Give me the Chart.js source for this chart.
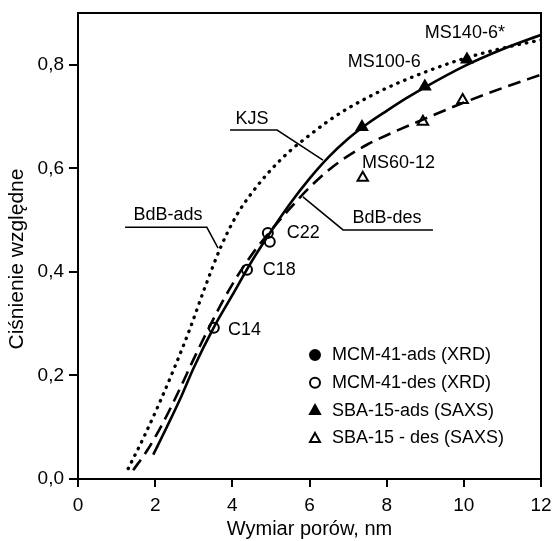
<!DOCTYPE html>
<html lang="pl">
<head>
<meta charset="UTF-8">
<title>Ciśnienie względne a wymiar porów</title>
<script src="https://cdn.jsdelivr.net/npm/chart.js"></script>
<style>
    body { margin: 0; background: #fff; }
    .box { width: 553px; height: 541px; }
</style>
</head>
<body>
<div class="box"><canvas id="poryChart" width="553" height="541"></canvas></div>
<script>
// osie
const xTicks = [0, 2, 4, 6, 8, 10, 12];
const yTicks = [0, 0.2, 0.4, 0.6, 0.8];

// krzywe modelowe
const kjsX = [1.95, 2.3, 2.65, 3.0, 3.5, 4.0, 4.5, 5.0, 5.5, 6.0, 6.5, 7.0, 7.5, 8.0, 8.5, 9.0, 10.0, 11.0, 12.0];
const kjsY = [0.047, 0.10, 0.155, 0.215, 0.29, 0.355, 0.42, 0.478, 0.532, 0.58, 0.622, 0.657, 0.686, 0.711, 0.735, 0.757, 0.797, 0.83, 0.858];

const bdbAdsX = [1.3, 1.7, 2.1, 2.5, 2.9, 3.3, 3.7, 4.1, 4.5, 5.0, 5.5, 6.0, 6.5, 7.0, 8.0, 9.0, 10.0, 11.0, 12.0];
const bdbAdsY = [0.02, 0.08, 0.145, 0.215, 0.29, 0.372, 0.448, 0.508, 0.552, 0.597, 0.634, 0.664, 0.692, 0.716, 0.755, 0.786, 0.812, 0.832, 0.848];

const bdbDesX = [1.43, 1.8, 2.2, 2.6, 3.0, 3.4, 3.8, 4.2, 4.6, 5.0, 5.5, 6.0, 6.5, 7.0, 7.5, 8.0, 9.0, 10.0, 11.0, 12.0];
const bdbDesY = [0.017, 0.056, 0.108, 0.168, 0.232, 0.293, 0.35, 0.4, 0.443, 0.48, 0.523, 0.563, 0.597, 0.624, 0.646, 0.664, 0.696, 0.727, 0.755, 0.781];

// punkty pomiarowe
const mcmAdsX = [];
const mcmAdsY = [];
const mcmDesX = [3.52, 4.38, 4.92, 4.97];
const mcmDesY = [0.292, 0.404, 0.475, 0.458];
const sbaAdsX = [7.36, 8.99, 10.08];
const sbaAdsY = [0.68, 0.758, 0.81];
const sbaDesX = [7.38, 8.94, 9.97];
const sbaDesY = [0.582, 0.69, 0.732];

// opisy
const pointNames = ['C14', 'C18', 'C22', 'MS60-12', 'MS100-6', 'MS140-6*'];
const pointNameX = [3.89, 4.79, 5.41, 7.36, 6.99, 8.99];
const pointNameY = [0.288, 0.404, 0.475, 0.611, 0.806, 0.862];

const curveNames = ['KJS', 'BdB-ads', 'BdB-des'];
const curveNameX = [4.51, 2.33, 8.01];
const curveNameY = [0.696, 0.51, 0.504];
const leaders = [
    [[3.94, 0.674], [5.16, 0.674], [6.35, 0.616]],
    [[1.22, 0.486], [3.34, 0.486], [3.63, 0.446]],
    [[9.2, 0.481], [6.87, 0.481], [5.83, 0.545]]
];

const FONT = '"Liberation Sans", Arial, sans-serif';

function pts(xs, ys) {
    return xs.map((x, i) => ({ x: x, y: ys[i] }));
}

function fmt(v) {
    return v.toFixed(1).replace('.', ',');
}

function marker(ctx, style, filled, x, y, r) {
    ctx.beginPath();
    if (style === 'circle') {
        ctx.arc(x, y, r, 0, Math.PI * 2);
    } else {
        ctx.moveTo(x, y - r * 1.1);
        ctx.lineTo(x + r, y + r * 0.7);
        ctx.lineTo(x - r, y + r * 0.7);
        ctx.closePath();
    }
    if (filled) {
        ctx.fillStyle = '#000';
        ctx.fill();
    }
    ctx.lineWidth = 2;
    ctx.strokeStyle = '#000';
    ctx.stroke();
}

const extras = {
    id: 'extras',
    afterDatasetsDraw(chart) {
        const ctx = chart.ctx;
        const xs = chart.scales.x;
        const ys = chart.scales.y;
        const area = chart.chartArea;
        ctx.save();

        // ramka
        ctx.strokeStyle = '#000';
        ctx.lineWidth = 2;
        ctx.strokeRect(area.left, area.top, area.right - area.left, area.bottom - area.top);

        // linie odnośników
        ctx.lineWidth = 1.5;
        leaders.forEach(line => {
            ctx.beginPath();
            line.forEach((p, i) => {
                const px = xs.getPixelForValue(p[0]);
                const py = ys.getPixelForValue(p[1]);
                if (i === 0) ctx.moveTo(px, py); else ctx.lineTo(px, py);
            });
            ctx.stroke();
        });

        ctx.fillStyle = '#000';
        ctx.font = '18px ' + FONT;
        ctx.textBaseline = 'middle';
        ctx.textAlign = 'center';
        curveNames.forEach((t, i) => {
            ctx.fillText(t, xs.getPixelForValue(curveNameX[i]), ys.getPixelForValue(curveNameY[i]));
        });
        ctx.textAlign = 'left';
        pointNames.forEach((t, i) => {
            ctx.fillText(t, xs.getPixelForValue(pointNameX[i]), ys.getPixelForValue(pointNameY[i]));
        });

        // legenda
        const lx = area.right - 226;
        let ly = area.bottom - 124;
        chart.data.datasets.forEach(ds => {
            if (!ds.inLegend) return;
            marker(ctx, ds.pointStyle, ds.filled, lx, ly, 5);
            ctx.fillStyle = '#000';
            ctx.fillText(ds.label, lx + 17, ly);
            ly += 27.8;
        });

        // tytuł osi Y
        ctx.translate(17, (area.top + area.bottom) / 2 + 13);
        ctx.rotate(-Math.PI / 2);
        ctx.textAlign = 'center';
        ctx.font = '21px ' + FONT;
        ctx.fillText('Ciśnienie względne', 0, 0);
        ctx.restore();
    }
};

function pointSet(label, xs, ys, style, filled) {
    return {
        label: label,
        data: pts(xs, ys),
        showLine: false,
        pointStyle: style,
        pointRadius: style === 'circle' ? 5 : 6,
        pointBorderWidth: 2,
        pointBorderColor: '#000',
        pointBackgroundColor: filled ? '#000' : 'rgba(0,0,0,0)',
        inLegend: true,
        filled: filled
    };
}

function curveSet(label, xs, ys, dash, width, cap) {
    return {
        label: label,
        data: pts(xs, ys),
        showLine: true,
        borderColor: '#000',
        borderWidth: width,
        borderDash: dash,
        borderCapStyle: cap,
        pointRadius: 0,
        cubicInterpolationMode: 'monotone',
        fill: false
    };
}

new Chart(document.getElementById('poryChart'), {
    type: 'scatter',
    data: {
        datasets: [
            pointSet('MCM-41-ads (XRD)', mcmAdsX, mcmAdsY, 'circle', true),
            pointSet('MCM-41-des (XRD)', mcmDesX, mcmDesY, 'circle', false),
            pointSet('SBA-15-ads (SAXS)', sbaAdsX, sbaAdsY, 'triangle', true),
            pointSet('SBA-15 - des (SAXS)', sbaDesX, sbaDesY, 'triangle', false),
            curveSet('KJS', kjsX, kjsY, [], 2.6, 'butt'),
            curveSet('BdB-ads', bdbAdsX, bdbAdsY, [0.5, 7], 3.3, 'round'),
            curveSet('BdB-des', bdbDesX, bdbDesY, [13, 7], 2.6, 'butt')
        ]
    },
    options: {
        responsive: false,
        animation: false,
        layout: { padding: { left: 0, right: 12, top: 13, bottom: 0 } },
        plugins: {
            legend: { display: false },
            tooltip: { enabled: false }
        },
        scales: {
            x: {
                type: 'linear',
                min: 0,
                max: 12,
                afterFit: s => { s.height = 62; s.paddingLeft = 0; s.paddingRight = 0; },
                afterBuildTicks: s => { s.ticks = xTicks.map(v => ({ value: v })); },
                grid: { display: true, drawOnChartArea: false, drawTicks: true, tickLength: 8, color: '#000', lineWidth: 2 },
                border: { display: true, color: '#000', width: 2 },
                ticks: { color: '#000', padding: 7, font: { family: FONT, size: 19 }, maxRotation: 0 },
                title: { display: true, text: 'Wymiar porów, nm', color: '#000', font: { family: FONT, size: 20 }, padding: { top: 0, bottom: 0 } }
            },
            y: {
                type: 'linear',
                min: 0,
                max: 0.9,
                afterFit: s => { s.width = 78; s.paddingTop = 0; s.paddingBottom = 0; },
                afterBuildTicks: s => { s.ticks = yTicks.map(v => ({ value: v })); },
                grid: { display: true, drawOnChartArea: false, drawTicks: true, tickLength: 9, color: '#000', lineWidth: 2 },
                border: { display: true, color: '#000', width: 2 },
                ticks: { color: '#000', padding: 5, font: { family: FONT, size: 19 }, callback: v => fmt(v) },
                title: { display: false }
            }
        }
    },
    plugins: [extras]
});
</script>
</body>
</html>
